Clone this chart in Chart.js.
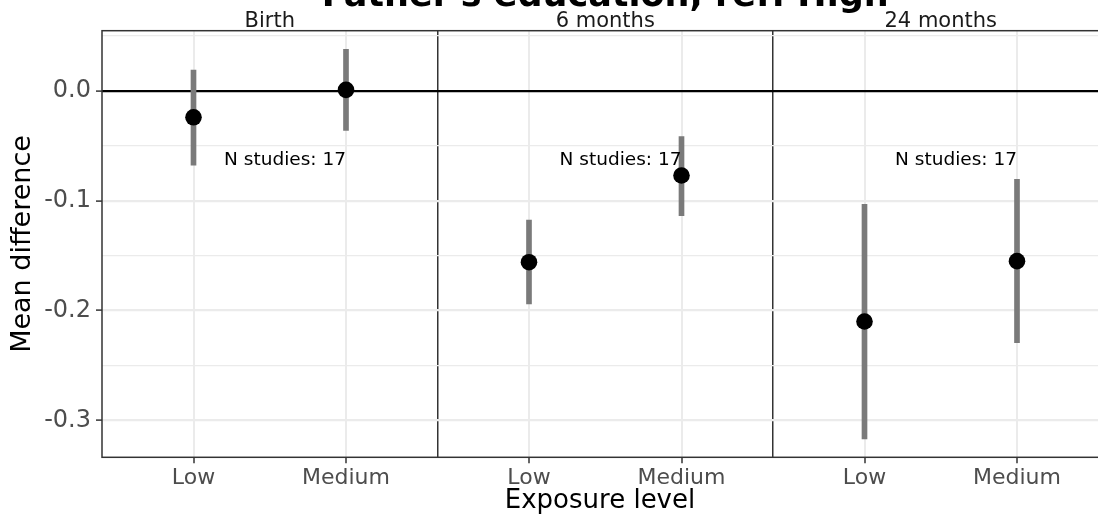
<!DOCTYPE html>
<html>
<head>
<meta charset="utf-8">
<script src="https://cdn.jsdelivr.net/npm/chart.js@4/dist/chart.umd.min.js"></script>
<style>
    html, body { margin: 0; padding: 0; background: #ffffff; overflow: hidden; }
    #chart { display: block; }
</style>
</head>
<body>
<canvas id="chart" width="1098" height="519"></canvas>
<script>
const panels = ['Birth', '6 months', '24 months']
const levels = ['Low', 'Medium']

// one value per panel x level, in order Birth Low, Birth Medium, 6m Low, ...
const meanDiff = [-0.024, 0.001, -0.156, -0.077, -0.210, -0.155]
const ciLow = [-0.0675, -0.036, -0.194, -0.1137, -0.317, -0.2293]
const ciHigh = [0.019, 0.038, -0.1176, -0.0416, -0.1033, -0.0805]
const nStudies = [17, 17, 17]

const yMajor = [0, -0.1, -0.2, -0.3]
const yMinor = [0.05, -0.05, -0.15, -0.25]

const titleText = "Father's education, ref: High"

// facet layout: each panel spans 2.2 units on the x scale (ggplot discrete expand)
const panelWidth = 2.2
const xStart = 0.4
const xEnd = xStart + panelWidth * panels.length
// the original image cuts the last facet a little before its right edge
const xVisibleEnd = xStart + panelWidth * panels.length * (996 / 1006.5)

const xOf = (p, l) => 1 + l + p * panelWidth
const catTicks = []
const borderTicks = []
panels.forEach((p, i) => {
    levels.forEach((l, j) => catTicks.push(xOf(i, j)))
    if (i > 0) borderTicks.push(xStart + i * panelWidth)
})

const points = []
const bars = []
panels.forEach((p, i) => {
    levels.forEach((l, j) => {
        const k = i * levels.length + j
        points.push({ x: xOf(i, j), y: meanDiff[k] })
        bars.push({ x: xOf(i, j), y: [ciLow[k], ciHigh[k]] })
    })
})

const isBorder = v => borderTicks.some(b => Math.abs(b - v) < 1e-6)
const isMajor = v => yMajor.some(m => Math.abs(m - v) < 1e-6)
const labelFor = v => {
    const idx = catTicks.findIndex(c => Math.abs(c - v) < 1e-6)
    return idx >= 0 ? levels[idx % levels.length] : ''
}

const facetText = {
    id: 'facetText',
    afterDatasetsDraw(chart) {
        const { ctx, chartArea, scales } = chart
        const right = scales.x.getPixelForValue(xEnd)
        ctx.save()
        // panel border
        ctx.strokeStyle = '#333333'
        ctx.lineWidth = 1.5
        ctx.strokeRect(chartArea.left, chartArea.top, right - chartArea.left, chartArea.bottom - chartArea.top)

        // N studies labels
        ctx.fillStyle = '#000000'
        ctx.font = '18.5px "DejaVu Sans"'
        ctx.textAlign = 'center'
        ctx.textBaseline = 'middle'
        panels.forEach((p, i) => {
            const x = scales.x.getPixelForValue(1.6 + i * panelWidth)
            const y = scales.y.getPixelForValue(-0.063)
            ctx.fillText('N studies: ' + nStudies[i], x, y)
        })

        // strip labels
        ctx.fillStyle = '#1A1A1A'
        ctx.font = '21px "DejaVu Sans"'
        ctx.textBaseline = 'alphabetic'
        panels.forEach((p, i) => {
            const x = scales.x.getPixelForValue(1.5 + i * panelWidth)
            ctx.fillText(p, x, 27)
        })

        // title (clipped at the top, as in the original)
        ctx.fillStyle = '#000000'
        ctx.font = 'bold 35px "DejaVu Sans"'
        ctx.fillText(titleText, (chartArea.left + right) / 2, 6)
        ctx.restore()
    }
}

Chart.defaults.font.family = '"DejaVu Sans", sans-serif'

const ctx = document.querySelector('#chart').getContext('2d')
const chart = new Chart(ctx, {
    type: 'bar',
    data: {
        datasets: [{
            type: 'scatter',
            data: points,
            backgroundColor: '#000000',
            borderWidth: 0,
            pointRadius: 8.3,
            order: 0
        }, {
            type: 'bar',
            data: bars,
            backgroundColor: '#7a7a7a',
            barThickness: 5,
            grouped: false,
            borderWidth: 0,
            order: 1
        }]
    },
    options: {
        responsive: false,
        animation: false,
        devicePixelRatio: 1,
        layout: {
            autoPadding: false,
            padding: { top: 30.7, left: 0, right: 0, bottom: 0 }
        },
        scales: {
            x: {
                type: 'linear',
                min: xStart,
                max: xVisibleEnd,
                offset: false,
                afterFit: scale => { scale.height = 61.7 },
                afterBuildTicks: scale => {
                    scale.ticks = catTicks.concat(borderTicks).sort((a, b) => a - b).map(v => ({ value: v }))
                },
                grid: {
                    offset: false,
                    color: c => isBorder(c.tick.value) ? '#333333' : '#EBEBEB',
                    lineWidth: c => isBorder(c.tick.value) ? 1.5 : 2,
                    tickColor: c => isBorder(c.tick.value) ? 'rgba(0,0,0,0)' : '#333333',
                    tickLength: 6,
                    tickWidth: 1.5
                },
                border: { display: false },
                ticks: {
                    autoSkip: false,
                    maxRotation: 0,
                    padding: 2,
                    color: '#4D4D4D',
                    font: { size: 22 },
                    callback: v => labelFor(v)
                },
                title: {
                    display: true,
                    text: 'Exposure level',
                    color: '#000000',
                    font: { size: 26 },
                    padding: { top: 0, bottom: 2.4 }
                }
            },
            y: {
                min: -0.3337,
                max: 0.0549,
                afterFit: scale => { scale.width = 102 },
                afterBuildTicks: scale => {
                    scale.ticks = yMinor.concat(yMajor).sort((a, b) => b - a).map(v => ({ value: v }))
                },
                grid: {
                    color: c => Math.abs(c.tick.value) < 1e-9 ? '#000000' : '#EBEBEB',
                    lineWidth: c => isMajor(c.tick.value) ? 2.2 : 1.2,
                    tickColor: c => isMajor(c.tick.value) ? '#333333' : 'rgba(0,0,0,0)',
                    tickLength: 6,
                    tickWidth: 1.5
                },
                border: { display: false },
                ticks: {
                    autoSkip: false,
                    padding: 5,
                    color: '#4D4D4D',
                    font: { size: 24 },
                    callback: v => isMajor(v) ? v.toFixed(1).replace('-0.0', '0.0') : ''
                },
                title: {
                    display: true,
                    text: 'Mean difference',
                    color: '#000000',
                    font: { size: 27 },
                    padding: { top: 6.8, bottom: 0 }
                }
            }
        },
        plugins: {
            legend: { display: false },
            tooltip: { enabled: false },
            title: { display: false }
        }
    },
    plugins: [facetText]
})
</script>
</body>
</html>
